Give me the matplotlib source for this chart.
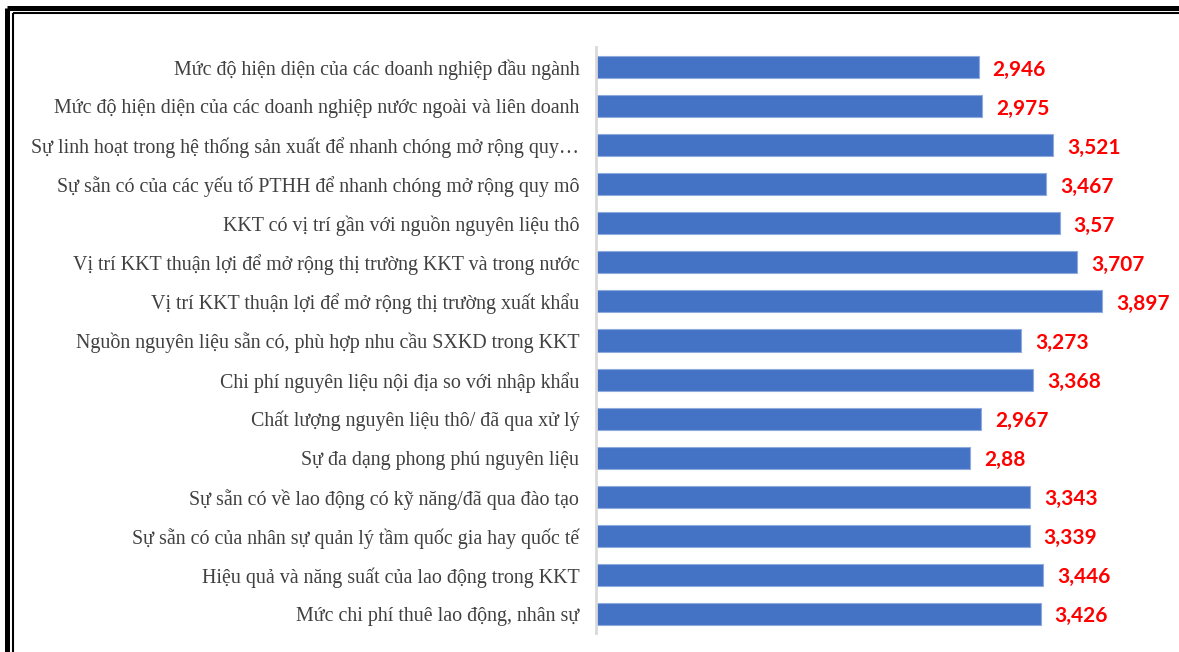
import matplotlib
matplotlib.use("Agg")
import matplotlib.pyplot as plt
from matplotlib.lines import Line2D

categories = [
    "Mức độ hiện diện của các doanh nghiệp đầu ngành",
    "Mức độ hiện diện của các doanh nghiệp nước ngoài và liên doanh",
    "Sự linh hoạt trong hệ thống sản xuất để nhanh chóng mở rộng quy…",
    "Sự sẵn có của các yếu tố PTHH để nhanh chóng mở rộng quy mô",
    "KKT có vị trí gần với nguồn nguyên liệu thô",
    "Vị trí KKT thuận lợi để mở rộng thị trường KKT và trong nước",
    "Vị trí KKT thuận lợi để mở rộng thị trường xuất khẩu",
    "Nguồn nguyên liệu sẵn có, phù hợp nhu cầu SXKD trong KKT",
    "Chi phí nguyên liệu nội địa so với nhập khẩu",
    "Chất lượng nguyên liệu thô/ đã qua xử lý",
    "Sự đa dạng phong phú nguyên liệu",
    "Sự sẵn có về lao động có kỹ năng/đã qua đào tạo",
    "Sự sẵn có của nhân sự quản lý tầm quốc gia hay quốc tế",
    "Hiệu quả và năng suất của lao động trong KKT",
    "Mức chi phí thuê lao động, nhân sự",
]
values = [2.946, 2.975, 3.521, 3.467, 3.57, 3.707, 3.897, 3.273,
          3.368, 2.967, 2.88, 3.343, 3.339, 3.446, 3.426]
value_labels = ["2,946", "2,975", "3,521", "3,467", "3,57", "3,707", "3,897", "3,273",
                "3,368", "2,967", "2,88", "3,343", "3,339", "3,446", "3,426"]

W, H = 1179, 652
fig = plt.figure(figsize=(W / 100, H / 100), dpi=100)
ax = fig.add_axes([596 / W, 1 - 633.5 / H, 1 - 596 / W, (633.5 - 47.5) / H])

ypos = list(range(len(categories)))
ax.barh(ypos, values, height=0.565, color="#4472C4", edgecolor="#8FAADC", linewidth=0.8)
ax.set_xlim(0, 4.49)
ax.set_ylim(14.5, -0.5)
ax.set_yticks(ypos)
ax.set_yticklabels(categories, fontfamily="Liberation Serif", fontsize=14.4, color="#404040")
ax.tick_params(axis="y", length=0, pad=12)
ax.set_xticks([])
for s in ["top", "right", "bottom"]:
    ax.spines[s].set_visible(False)
ax.spines["left"].set_color("#D9D9D9")
ax.spines["left"].set_linewidth(2)

for y, v, lab in zip(ypos, values, value_labels):
    ax.annotate(lab, xy=(v, y), xytext=(10, -1.8), textcoords="offset points",
                ha="left", va="center", fontfamily="Lato", fontweight="bold",
                fontsize=15, color="#FF0000")

# double border at top and left
fig.add_artist(Line2D([7.5 / W, 1], [1 - 7.5 / H] * 2, color="black", lw=3.6, solid_capstyle="butt"))
fig.add_artist(Line2D([7.5 / W] * 2, [1 - 7.5 / H, 0], color="black", lw=3.6, solid_capstyle="butt"))
fig.add_artist(Line2D([13 / W, 1], [1 - 13 / H] * 2, color="black", lw=1.5, solid_capstyle="butt"))
fig.add_artist(Line2D([13 / W] * 2, [1 - 13 / H, 0], color="black", lw=1.5, solid_capstyle="butt"))

fig.savefig("out.png", dpi=100)
